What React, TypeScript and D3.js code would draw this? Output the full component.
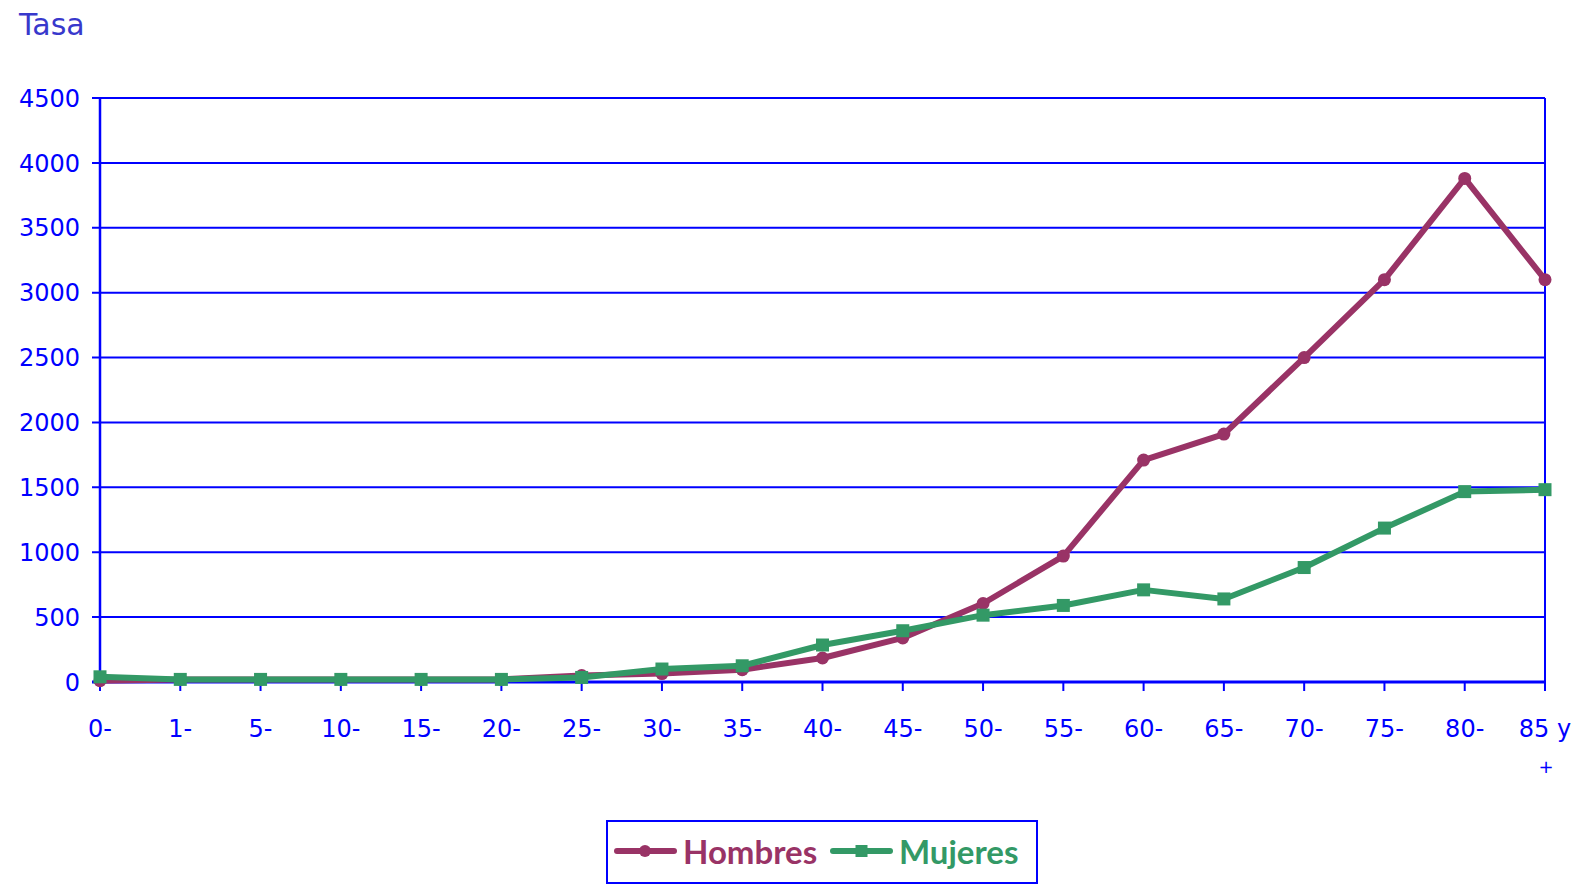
import React from 'react';
import * as d3 from 'd3';

const ageGroups = ['0-', '1-', '5-', '10-', '15-', '20-', '25-', '30-', '35-', '40-', '45-', '50-', '55-', '60-', '65-', '70-', '75-', '80-', '85 y +'];
const hombres = [10, 20, 20, 20, 20, 20, 50, 65, 95, 185, 340, 605, 970, 1710, 1910, 2500, 3100, 3880, 3100];
const mujeres = [40, 20, 20, 20, 20, 20, 35, 100, 125, 285, 395, 515, 590, 710, 640, 882, 1186, 1467, 1482];
const yTicks = [0, 500, 1000, 1500, 2000, 2500, 3000, 3500, 4000, 4500];

const W = 1586;
const H = 891;
const margin = { top: 98, right: 41, bottom: 209, left: 100 };
const axisBlue = '#0000ff';
const hColor = '#993366';
const mColor = '#339966';
const font = '"DejaVu Sans", sans-serif';

const App: React.FC = () => {
  const x = d3.scalePoint<string>()
    .domain(ageGroups)
    .range([margin.left, W - margin.right]);

  const y = d3.scaleLinear()
    .domain([0, 4500])
    .range([H - margin.bottom, margin.top]);

  const line = d3.line<number>()
    .x((_, i) => x(ageGroups[i]) as number)
    .y(d => y(d));

  const x0 = margin.left;
  const x1 = W - margin.right;
  const y0 = y(0);

  return (
    <svg width={W} height={H} style={{ position: 'absolute', left: 0, top: 0 }}>
      <rect width={W} height={H} fill="#fff" />
      <text x={19} y={35} fontFamily={font} fontSize={30} fill="#3838cc">Tasa</text>

      {/* grid */}
      {yTicks.map(t => (
        <g key={t}>
          <line x1={x0 - 8} x2={x1} y1={y(t)} y2={y(t)} stroke={axisBlue} strokeWidth={t === 0 ? 3 : 2} />
          <text x={80} y={y(t)} dy="0.36em" textAnchor="end" fontFamily={font} fontSize={24} fill={axisBlue}>{t}</text>
        </g>
      ))}
      <line x1={x0} x2={x0} y1={margin.top} y2={y0} stroke={axisBlue} strokeWidth={2.5} />
      <line x1={x1} x2={x1} y1={margin.top} y2={y0} stroke={axisBlue} strokeWidth={2} />

      {/* x ticks */}
      {ageGroups.map(g => {
        const gx = x(g) as number;
        const last = g === '85 y +';
        return (
          <g key={g}>
            <line x1={gx} x2={gx} y1={y0} y2={y0 + 9} stroke={axisBlue} strokeWidth={2} />
            {last ? (
              <text fontFamily={font} fontSize={24} fill={axisBlue} textAnchor="middle">
                <tspan x={gx} y={737}>85 y</tspan>
                <tspan x={gx + 1} y={773} fontSize={18}>+</tspan>
              </text>
            ) : (
              <text x={gx} y={737} textAnchor="middle" fontFamily={font} fontSize={24} fill={axisBlue}>{g}</text>
            )}
          </g>
        );
      })}

      {/* series */}
      <path d={line(hombres) || ''} fill="none" stroke={hColor} strokeWidth={6} strokeLinejoin="round" />
      {hombres.map((v, i) => (
        <circle key={i} cx={x(ageGroups[i]) as number} cy={y(v)} r={6.5} fill={hColor} />
      ))}
      <path d={line(mujeres) || ''} fill="none" stroke={mColor} strokeWidth={6} strokeLinejoin="round" />
      {mujeres.map((v, i) => (
        <rect key={i} x={(x(ageGroups[i]) as number) - 6.5} y={y(v) - 6.5} width={13} height={13} fill={mColor} />
      ))}

      {/* legend */}
      <rect x={607} y={821} width={430} height={62} fill="#fff" stroke={axisBlue} strokeWidth={2} />
      <line x1={617} x2={674} y1={851} y2={851} stroke={hColor} strokeWidth={6} strokeLinecap="round" />
      <circle cx={645} cy={851} r={6} fill={hColor} />
      <text x={683} y={864} fontFamily="Lato, sans-serif" fontWeight="bold" fontSize={33} fill={hColor}>Hombres</text>
      <line x1={833} x2={890} y1={851} y2={851} stroke={mColor} strokeWidth={6} strokeLinecap="round" />
      <rect x={855.5} y={845} width={12} height={12} fill={mColor} />
      <text x={899} y={864} fontFamily="Lato, sans-serif" fontWeight="bold" fontSize={33} fill={mColor}>Mujeres</text>
    </svg>
  );
};

export default App;
